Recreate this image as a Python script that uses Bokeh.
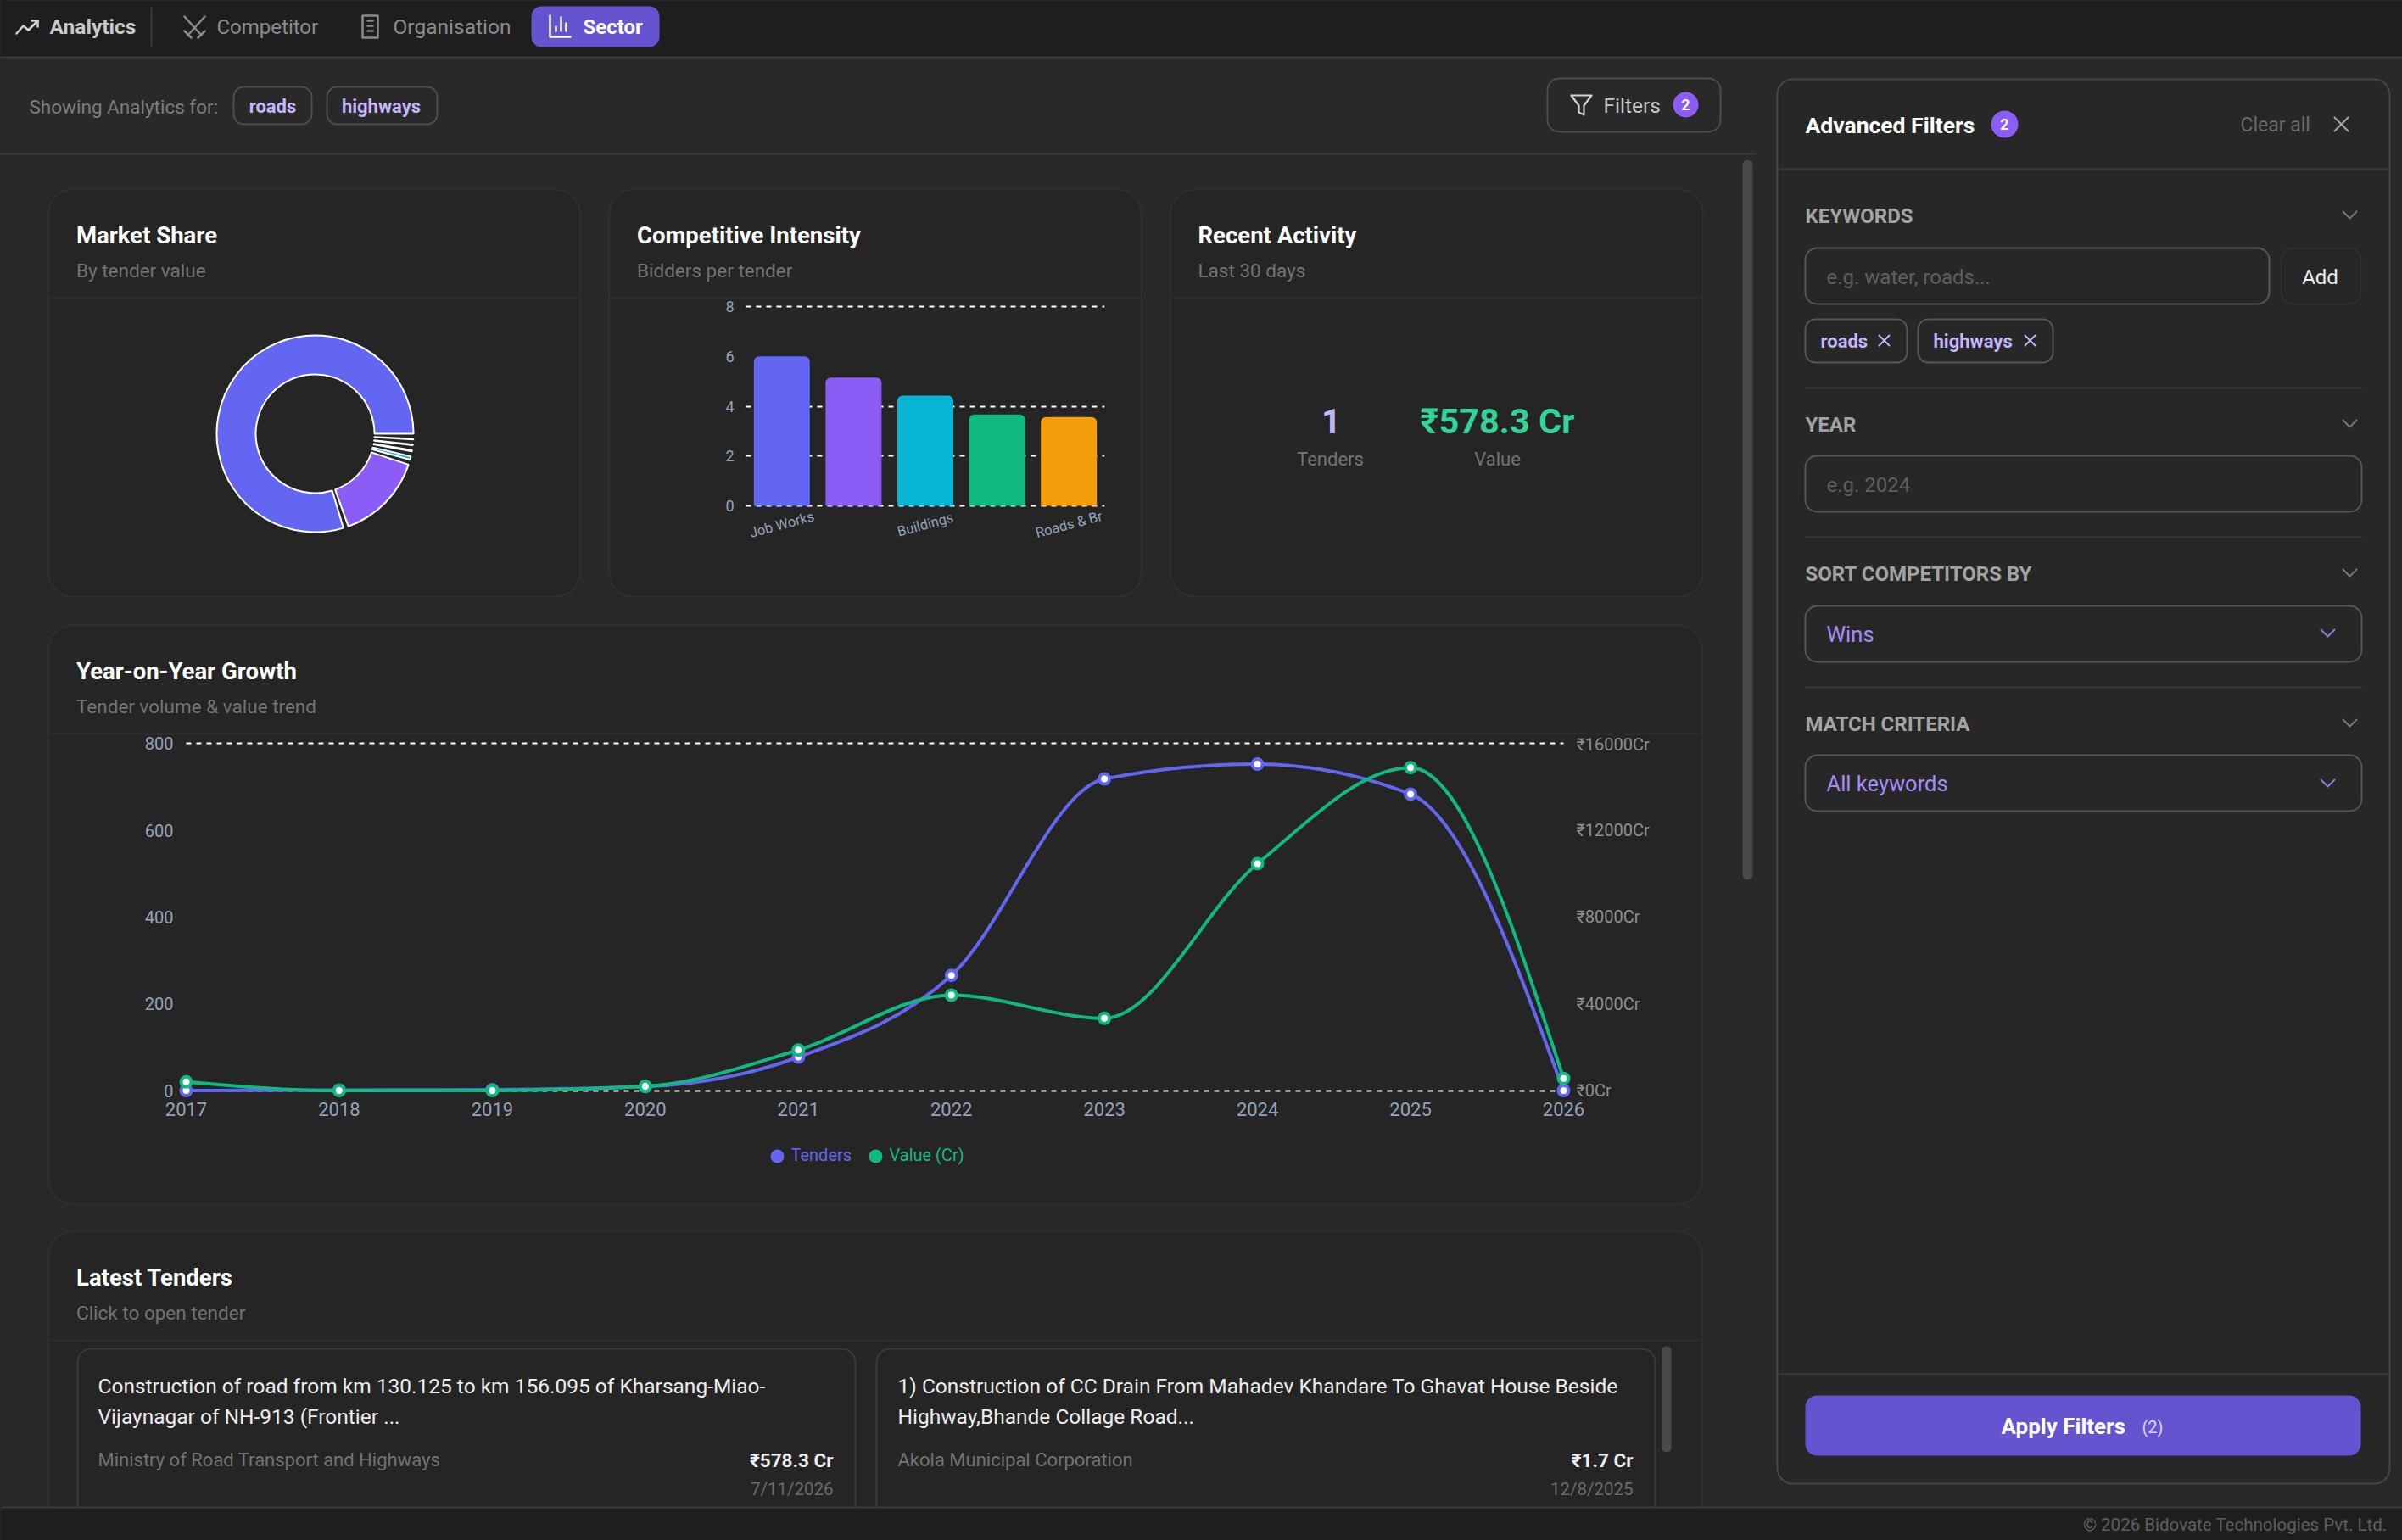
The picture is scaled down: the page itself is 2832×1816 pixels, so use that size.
import math
from bokeh.core.properties import value as fixed
from bokeh.embed import file_html
from bokeh.resources import INLINE
from bokeh.plotting import figure
from bokeh.layouts import column
from bokeh.models import (BoxAnnotation, Label, Range1d, LinearAxis, FixedTicker,
                          PrintfTickFormatter, GlobalInlineStyleSheet)

# ---------- data ----------
share_labels = ["Job Works", "Other Works", "Buildings", "Services", "Roads & Br", "Misc"]
share_values = [83.83, 15.2, 0.58, 0.175, 0.117, 0.088]
share_colors = ["#6366f1", "#8b5cf6", "#06b6d4", "#10b981", "#f59e0b", "#ef4444"]

bar_labels = ["Job Works", "", "Buildings", "", "Roads & Br"]
bar_values = [6.0, 5.15, 4.43, 3.67, 3.57]
bar_colors = ["#6366f1", "#8b5cf6", "#06b6d4", "#10b981", "#f59e0b"]
bar_ticks = [0, 2, 4, 6, 8]
bar_grid = [0, 2, 4, 8]

years = [2017, 2018, 2019, 2020, 2021, 2022, 2023, 2024, 2025, 2026]
tenders = [1, 2, 3, 10, 78, 266, 718, 752, 683, 1]
value_cr = [418, 15, 20, 210, 1883, 4407, 3347, 10460, 14880, 578]
left_ticks = [0, 200, 400, 600, 800]
right_ticks = [0, 4000, 8000, 12000, 16000]
line_grid = [0, 800]

FONT = "Roboto"
NAV = "#1e1e1e"; PAGE = "#292929"; CARD = "#252525"; CARD_LINE = "#2f2f2f"
PANEL = "#272727"; INK = "#ffffff"; MUTED = "#737373"; LILAC = "#c4b5fd"; SLATE = "#94a3b8"
VIOLET = "#6554d0"

# ---------- page chrome: figure coordinates equal screenshot pixels ----------
bg = figure(width=2832, height=1816, output_backend="svg", toolbar_location=None, frame_align=False,
            x_range=Range1d(0, 2832), y_range=Range1d(1816, 0), min_border=0,
            background_fill_color=PAGE, border_fill_color=PAGE, outline_line_color=None)
bg.axis.visible = False
bg.grid.visible = False


def box(l, t, r, b, fill=None, line=None, w=2, rad=0):
    bg.add_layout(BoxAnnotation(left=l, right=r, top=t, bottom=b, border_radius=rad,
                                fill_color=fill, fill_alpha=1 if fill else 0,
                                line_color=line, line_alpha=1 if line else 0, line_width=w,
                                level="underlay"))


def txt(x, y, s, size, color, bold=False, align="left"):
    bg.add_layout(Label(x=x, y=y, text=s, text_font=FONT, text_font_size=f"{size}px",
                        text_color=color, text_font_style="bold" if bold else "normal",
                        text_align=align, text_baseline="middle", level="annotation"))


def poly(cx, cy, pts, color, w=2):
    r = bg.line([cx + p[0] for p in pts], [cy + p[1] for p in pts], line_color=color,
                line_width=w, line_cap="round", line_join="round")
    r.level = "glyph"


def cross(cx, cy, h, color, w=2):
    poly(cx, cy, [(-h, -h), (h, h)], color, w)
    poly(cx, cy, [(-h, h), (h, -h)], color, w)


def chev(cx, cy, color, w=2):
    poly(cx, cy, [(-8, -4), (0, 4), (8, -4)], color, w)


# nav
box(0, 0, 2832, 66, fill=NAV)
box(0, 66, 2832, 68, fill="#3a3a3a")
box(177, 8, 179, 55, fill="#3a3a3a")
box(626, 7, 777, 55, fill=VIOLET, rad=12)
poly(32, 31, [(-13, 8), (-5, -1), (1, 4), (12, -7)], "#d4d4d4", 2.5)
poly(32, 31, [(5, -7), (12, -7), (12, 0)], "#d4d4d4", 2.5)
txt(58, 31, "Analytics", 24.5, "#c8c8c8", True)
poly(229, 31, [(-12, -12), (8, 10)], "#8a8a8a", 2.5)
poly(229, 31, [(12, -12), (-8, 10)], "#8a8a8a", 2.5)
poly(229, 31, [(-12, 5), (-4, 13)], "#8a8a8a", 2.5)
poly(229, 31, [(12, 5), (4, 13)], "#8a8a8a", 2.5)
txt(255, 31, "Competitor", 24, "#8a8a8a")
poly(436, 31, [(-9, -13), (9, -13), (9, 13), (-9, 13), (-9, -13)], "#8a8a8a", 2.5)
poly(436, 31, [(-3, -7), (3, -7)], "#8a8a8a", 2.5)
poly(436, 31, [(-3, -1), (3, -1)], "#8a8a8a", 2.5)
poly(436, 31, [(-3, 5), (3, 5)], "#8a8a8a", 2.5)
txt(463, 31, "Organisation", 24.5, "#8a8a8a")
poly(659, 31, [(-11, -13), (-11, 12), (13, 12)], "#ffffff", 2.5)
poly(659, 31, [(-4, 5), (-4, 0)], "#ffffff", 2.5)
poly(659, 31, [(2, 5), (2, -11)], "#ffffff", 2.5)
poly(659, 31, [(8, 5), (8, -4)], "#ffffff", 2.5)
txt(687, 31, "Sector", 24, "#ffffff", True)

# filter row
txt(34, 125, "Showing Analytics for:", 22.5, "#7c7c7c")
box(275, 102, 367, 146, line="#4d4d4d", rad=12)
txt(321, 125, "roads", 22, LILAC, True, "center")
box(385, 102, 515, 146, line="#4d4d4d", rad=12)
txt(449, 125, "highways", 22, LILAC, True, "center")
box(0, 180, 2070, 182, fill="#3a3a3a")
box(1824, 92, 2028, 155, line="#4d4d4d", rad=14)
poly(1864, 123, [(-12, -11), (12, -11), (3, 1), (3, 12), (-3, 9), (-3, 1), (-12, -11)], "#d4d4d4", 2.2)
txt(1890, 124, "Filters", 24.5, "#c8c8c8")
box(1972, 108, 2002, 138, fill="#8b5cf6", rad=15)
txt(1987, 123, "2", 18, "#ffffff", True, "center")
box(2054, 188, 2066, 1037, fill="#4a4a4a", rad=6)

# cards
for l, r, t, b, hl in [(57, 683, 223, 703, 350), (718, 1345, 223, 703, 350), (1380, 2007, 223, 703, 350),
                       (57, 2006, 737, 1419, 865), (57, 2006, 1452, 1830, 1580)]:
    box(l, t, r, min(b, 1800), fill=CARD, line=CARD_LINE, w=2, rad=28)
    box(l + 1, hl - 1, r - 1, hl + 1, fill=CARD_LINE)

for x, title, sub, ty in [(89.5, "Market Share", "By tender value", 277), (750.5, "Competitive Intensity", "Bidders per tender", 277),
                          (1412, "Recent Activity", "Last 30 days", 277), (89.5, "Year-on-Year Growth", "Tender volume & value trend", 791),
                          (89.5, "Latest Tenders", "Click to open tender", 1506)]:
    txt(x, ty, title, 27.5, INK, True)
    txt(x, ty + 41, sub, 22.5, MUTED)

# recent activity
txt(1569, 496, "1", 40, LILAC, True, "center")
txt(1765, 496, "₹578.3 Cr", 41.5, "#34d399", True, "center")
txt(1568, 541, "Tenders", 22, MUTED, False, "center")
txt(1765, 541, "Value", 22, MUTED, False, "center")

# legend of the growth chart
box(908, 1355, 924, 1371, fill="#6366f1", rad=8)
txt(932, 1361, "Tenders", 20, "#6366f1")
box(1024, 1355, 1040, 1371, fill="#10b981", rad=8)
txt(1048, 1361, "Value (Cr)", 20, "#10b981")

# latest tenders
box(91, 1590, 1008, 1830, fill=CARD, line="#3a3a3a", rad=16)
box(1033, 1590, 1951, 1830, fill=CARD, line="#3a3a3a", rad=16)
box(1959, 1587, 1970, 1712, fill="#4a4a4a", rad=5)
txt(115, 1634, "Construction of road from km 130.125 to km 156.095 of Kharsang-Miao-", 24.5, "#ededed")
txt(115, 1670, "Vijaynagar of NH-913 (Frontier ...", 24.5, "#ededed")
txt(115, 1721, "Ministry of Road Transport and Highways", 22, MUTED)
txt(982, 1721, "₹578.3 Cr", 22.5, "#ededed", True, "right")
txt(982, 1755, "7/11/2026", 20.5, "#6a6a6a", False, "right")
txt(1058, 1634, "1) Construction of CC Drain From Mahadev Khandare To Ghavat House Beside", 24.5, "#ededed")
txt(1058, 1670, "Highway,Bhande Collage Road...", 24.5, "#ededed")
txt(1058, 1721, "Akola Municipal Corporation", 22, MUTED)
txt(1925, 1721, "₹1.7 Cr", 22.5, "#ededed", True, "right")
txt(1925, 1755, "12/8/2025", 20.5, "#6a6a6a", False, "right")

# footer
box(0, 1776, 2832, 1816, fill=NAV)
box(0, 1776, 2832, 1778, fill="#3a3a3a")
txt(2814, 1797, "© 2026 Bidovate Technologies Pvt. Ltd.", 20.5, "#5e5e5e", False, "right")

# advanced filter panel
box(2095, 93, 2817, 1749, fill=PANEL, line="#474747", rad=18)
box(2096, 198, 2816, 200, fill="#3a3a3a")
txt(2128, 147, "Advanced Filters", 26.5, INK, True)
box(2347, 130, 2379, 162, fill="#8b5cf6", rad=16)
txt(2363, 146, "2", 18, "#ffffff", True, "center")
txt(2641, 147, "Clear all", 23, "#6a6a6a")
cross(2760, 146, 8, "#a3a3a3", 2.2)

GREY = "#a3a3a3"
for y, s in [(254, "KEYWORDS"), (500, "YEAR"), (676, "SORT COMPETITORS BY"), (853, "MATCH CRITERIA")]:
    txt(2128, y, s, 24, GREY, True)
    chev(2770, y - 1, "#777777")
for y in [457, 633, 810]:
    box(2128, y - 1, 2784, y + 1, fill="#383838")

box(2128, 292, 2675, 358, line="#565656", rad=14)
txt(2153, 326, "e.g. water, roads...", 24, "#5e5e5e")
box(2689, 292, 2783, 358, line="#303030", rad=14)
txt(2735, 326, "Add", 24, "#ededed", False, "center")
box(2128, 376, 2248, 427, line="#565656", rad=12)
txt(2146, 402, "roads", 22, LILAC, True)
cross(2221, 401, 6, LILAC, 1.8)
box(2261, 376, 2420, 427, line="#565656", rad=12)
txt(2279, 402, "highways", 22, LILAC, True)
cross(2393, 401, 6, LILAC, 1.8)

box(2128, 537, 2784, 603, line="#565656", rad=14)
txt(2153, 571, "e.g. 2024", 24, "#5e5e5e")
box(2128, 714, 2784, 780, line="#565656", rad=14)
txt(2153, 747, "Wins", 25.5, "#a78bfa")
chev(2744, 746, "#8b7fd8")
box(2128, 890, 2784, 956, line="#565656", rad=14)
txt(2153, 923, "All keywords", 25.5, "#a78bfa")
chev(2744, 923, "#8b7fd8")

box(2096, 1619, 2816, 1621, fill="#3a3a3a")
box(2128, 1645, 2783, 1716, fill=VIOLET, rad=14)
txt(2359, 1681, "Apply Filters", 26, "#ffffff", True)
txt(2525, 1682, "(2)", 20, "#d8d4f5")


def place(fig, x, y):
    fig.styles = {"position": "absolute", "left": f"{x}px", "top": f"{y}px"}
    return fig


def style_axis(ax, color, standoff, size="20px"):
    ax.axis_line_color = None
    ax.major_tick_line_color = None
    ax.minor_tick_line_color = None
    ax.major_label_text_color = color
    ax.major_label_text_font = FONT
    ax.major_label_text_font_size = size
    ax.major_label_standoff = standoff


# ---------- donut ----------
donut = figure(width=280, height=280, output_backend="svg", toolbar_location=None, frame_align=False,
               x_range=Range1d(-1, 1), y_range=Range1d(-1, 1), min_border=0,
               background_fill_color=None, border_fill_color=None, outline_line_color=None)
donut.axis.visible = False
donut.grid.visible = False
pad = math.radians(3)
sweep = 2 * math.pi - pad * len(share_values)
total = sum(share_values)
starts, ends, a = [], [], 0.0
for v in share_values:
    starts.append(a)
    a += v / total * sweep
    ends.append(a)
    a += pad
donut.annular_wedge(x=[0] * len(starts), y=[0] * len(starts), inner_radius=70, outer_radius=116,
                    inner_radius_units="screen", outer_radius_units="screen",
                    start_angle=starts, end_angle=ends, direction="anticlock",
                    fill_color=share_colors, line_color="#ffffff", line_width=2)
place(donut, 371 - 140, 511 - 140)

# ---------- bars ----------
BX0, BX1, BY8, BY0 = 879, 1302, 361, 596.4
px_per_bidder = (BY0 - BY8) / 8
below_px = 50
bars = figure(width=626, height=352, output_backend="svg", toolbar_location=None, frame_align=False,
              frame_width=int(BX1 - BX0), frame_height=int(BY0 - BY8) + 3 + below_px,
              x_range=Range1d(-0.5, len(bar_values) - 0.5),
              y_range=Range1d(-below_px / px_per_bidder, 8 + 3 / px_per_bidder),
              min_border_left=BX0 - 719, min_border_top=8, min_border_right=43, min_border_bottom=50,
              background_fill_color=None, border_fill_color=None, outline_line_color=None)
bars.xaxis.visible = False
bars.xgrid.visible = False
bars.ygrid.ticker = FixedTicker(ticks=bar_grid)
bars.ygrid.grid_line_color = "#ffffff"
bars.ygrid.grid_line_width = 2
bars.ygrid.grid_line_dash = [6, 6]
bars.yaxis.ticker = FixedTicker(ticks=bar_ticks)
style_axis(bars.yaxis[0], SLATE, 8, "18px")
xs = list(range(len(bar_values)))
bars.vbar(x=xs, top=bar_values, bottom=0, width=0.78, fill_color=bar_colors, line_color=None,
          border_radius=(6, 6, 0, 0))
lab_x = [i for i, s in enumerate(bar_labels) if s]
bars.text(x=lab_x, y=[0] * len(lab_x), text=[bar_labels[i] for i in lab_x], angle=math.radians(15),
          y_offset=22, text_align="center", text_baseline="middle", text_color=SLATE,
          text_font=fixed(FONT), text_font_size="16.5px")
place(bars, 719, 350)

# ---------- growth ----------
PX0, PX1, PY800, PY0 = 219.3, 1843.7, 876, 1285.7
px_per_year = (PX1 - PX0) / (years[-1] - years[0])
px_per_unit = (PY0 - PY800) / 800
mx, my_top, my_bot = 12, 5, 10
x_lo = years[0] - mx / px_per_year
x_hi = years[-1] + mx / px_per_year
y_lo = -my_bot / px_per_unit
y_hi = 800 + my_top / px_per_unit
FX0, FX1, FY0, FY1 = PX0 - mx, PX1 + mx, PY800 - my_top, PY0 + my_bot

line = figure(width=1948, height=554, output_backend="svg", toolbar_location=None, frame_align=False,
              frame_width=int(round(FX1 - FX0)), frame_height=int(round(FY1 - FY0)),
              x_range=Range1d(x_lo, x_hi), y_range=Range1d(y_lo, y_hi),
              min_border_left=int(FX0 - 58), min_border_top=int(FY0 - 865),
              min_border_right=int(2006 - FX1), min_border_bottom=int(1419 - FY1),
              background_fill_color=None, border_fill_color=None, outline_line_color=None)
line.extra_y_ranges = {"value": Range1d(y_lo * 20, y_hi * 20)}
line.grid.visible = False
line.xaxis.ticker = FixedTicker(ticks=years)
line.xaxis.formatter = PrintfTickFormatter(format="%d")
line.yaxis.ticker = FixedTicker(ticks=left_ticks)
style_axis(line.xaxis[0], SLATE, -3, "22px")
style_axis(line.yaxis[0], SLATE, -3)
right_axis = LinearAxis(y_range_name="value", ticker=FixedTicker(ticks=right_ticks),
                        formatter=PrintfTickFormatter(format="₹%dCr"))
style_axis(right_axis, "#8f8f8f", -3)
line.add_layout(right_axis, "right")

line.segment(x0=[years[0]] * len(line_grid), x1=[years[-1]] * len(line_grid), y0=line_grid, y1=line_grid,
             line_color="#ffffff", line_width=2, line_dash=fixed([6, 6]))


def monotone(x, y):
    n = len(x)
    h = [x[i + 1] - x[i] for i in range(n - 1)]
    s = [(y[i + 1] - y[i]) / h[i] for i in range(n - 1)]
    sgn = lambda v: 1 if v > 0 else -1
    m = [0.0] * n
    for i in range(1, n - 1):
        p = (s[i - 1] * h[i] + s[i] * h[i - 1]) / (h[i - 1] + h[i])
        m[i] = (sgn(s[i - 1]) + sgn(s[i])) * min(abs(s[i - 1]), abs(s[i]), 0.5 * abs(p))
    m[0] = (3 * s[0] - m[1]) / 2
    m[-1] = (3 * s[-1] - m[-2]) / 2
    return dict(x0=x[:-1], y0=y[:-1], x1=x[1:], y1=y[1:],
                cx0=[x[i] + h[i] / 3 for i in range(n - 1)],
                cy0=[y[i] + m[i] * h[i] / 3 for i in range(n - 1)],
                cx1=[x[i + 1] - h[i] / 3 for i in range(n - 1)],
                cy1=[y[i + 1] - m[i + 1] * h[i] / 3 for i in range(n - 1)])


line.bezier(line_color="#6366f1", line_width=4, **monotone(years, tenders))
line.scatter(years, tenders, size=12, fill_color="#ffffff", line_color="#6366f1", line_width=4)
line.bezier(line_color="#10b981", line_width=4, y_range_name="value", **monotone(years, value_cr))
line.scatter(years, value_cr, size=12, fill_color="#ffffff", line_color="#10b981", line_width=4,
             y_range_name="value")
place(line, 58, 865)

root = column(bg, donut, bars, line, width=2832, height=1816,
              styles={"position": "relative"},
              stylesheets=[GlobalInlineStyleSheet(css=f"html{{background:{PAGE};overflow:hidden}}")])

open("out.html", "w").write(file_html(root, INLINE))
